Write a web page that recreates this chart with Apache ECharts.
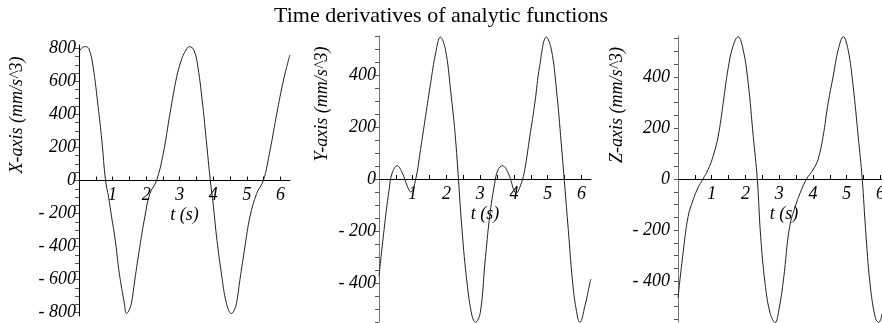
<!DOCTYPE html>
<html>
<head>
<meta charset="utf-8">
<script src="https://cdn.jsdelivr.net/npm/echarts@6/dist/echarts.min.js"></script>
<style>
  html, body { margin: 0; padding: 0; background: #fff; }
  #chart { width: 882px; height: 323px; }
</style>
</head>
<body>
<div id="chart"></div>
<script>
// chart text
var titleText = 'Time derivatives of analytic functions'
var axisNames = ['X-axis (mm/s^3)', 'Y-axis (mm/s^3)', 'Z-axis (mm/s^3)']
var timeName = 't (s)'

// tick labels
var timeTicks = [1, 2, 3, 4, 5, 6]
var xTicks = [-800, -600, -400, -200, 0, 200, 400, 600, 800]
var yTicks = [-400, -200, 0, 200, 400]
var zTicks = [-400, -200, 0, 200, 400]

// X-axis jerk
var tX = [0, 0.1, 0.2, 0.3, 0.42, 0.57, 0.68, 0.79, 0.88, 0.97, 1.08, 1.2, 1.35, 1.41, 1.48, 1.56, 1.66, 1.81, 1.96, 2.11, 2.31, 2.51, 2.71, 2.91, 3.05, 3.16, 3.29, 3.42, 3.54, 3.69, 3.79, 3.91, 4.0, 4.09, 4.24, 4.39, 4.54, 4.61, 4.69, 4.79, 4.94, 5.09, 5.29, 5.49, 5.69, 5.89, 6.09, 6.28]
var vX = [780, 805, 810, 795, 688, 446, 244, 0, -100, -220, -362, -562, -743, -805, -790, -743, -604, -402, -220, -79, 0, 164, 406, 628, 730, 780, 810, 790, 688, 446, 244, 0, -150, -330, -562, -743, -805, -790, -743, -604, -402, -220, -79, 0, 184, 406, 608, 760]

// Y-axis jerk
var tY = [0, 0.15, 0.3, 0.39, 0.54, 0.69, 0.84, 0.94, 1.09, 1.23, 1.38, 1.53, 1.68, 1.82, 1.97, 2.12, 2.27, 2.46, 2.61, 2.76, 2.86, 3.0, 3.14, 3.28, 3.43, 3.53, 3.66, 3.83, 4.07, 4.22, 4.32, 4.47, 4.62, 4.76, 4.96, 5.11, 5.26, 5.4, 5.61, 5.76, 5.9, 5.95, 6.1, 6.25, 6.28]
var vY = [-375, -195, -41, 23, 51, 23, -28, -50, 0, 113, 241, 369, 485, 546, 497, 343, 151, -195, -400, -528, -551, -515, -323, -144, -15, 36, 51, 23, -54, -15, 36, 164, 293, 433, 546, 497, 343, 139, -195, -425, -540, -551, -490, -400, -385]

// Z-axis jerk
var tZ = [0, 0.15, 0.3, 0.45, 0.59, 0.74, 0.89, 1.04, 1.19, 1.34, 1.48, 1.63, 1.78, 1.93, 2.08, 2.23, 2.35, 2.45, 2.58, 2.73, 2.88, 3.0, 3.13, 3.31, 3.51, 3.66, 3.81, 4.0, 4.15, 4.3, 4.45, 4.6, 4.75, 4.9, 5.04, 5.19, 5.34, 5.46, 5.56, 5.69, 5.84, 5.94, 6.09, 6.19, 6.28]
var vZ = [-465, -290, -147, -81, -35, 0, 36, 89, 167, 298, 429, 520, 557, 507, 376, 167, 0, -225, -408, -525, -562, -505, -390, -186, -94, -42, 0, 36, 76, 167, 298, 403, 507, 557, 507, 364, 167, 0, -199, -408, -539, -562, -505, -420, -440]

var serif = 'Liberation Serif'

function pairs(t, v) {
  return t.map(function (x, i) { return [x, v[i]] })
}

function steps(lo, hi, d) {
  var out = []
  for (var v = lo; v <= hi; v += d) out.push(v)
  return out
}

function minusLabel(v) {
  return v < 0 ? '- ' + (-v) : String(v)
}

// the time axis sits on y = 0, i.e. half the grid height above the bottom
var panels = [
  { grid: { left: 79, right: 592, top: 45, bottom: 7 }, range: 820, ticks: xTicks, minor: steps(-800, 800, 50), margin: 3, axisColor: '#000', t: tX, v: vX },
  { grid: { left: 379, right: 291, top: 36, bottom: 1 }, range: 550, ticks: yTicks, minor: steps(-550, 550, 50), margin: 3, axisColor: '#777', t: tY, v: vY },
  { grid: { left: 678, right: -8, top: 36, bottom: 1 }, range: 560, ticks: zTicks, minor: steps(-550, 550, 50), margin: 8, axisColor: '#777', t: tZ, v: vZ }
]

var namePos = [[17, 115], [322, 104], [617, 105]]

var myChart = echarts.init(document.getElementById('chart'))

var option = {
  animation: false,
  backgroundColor: '#fff',
  title: {
    text: titleText,
    left: 'center',
    top: 0,
    textStyle: { fontFamily: serif, fontWeight: 'normal', fontSize: 22, color: '#000' }
  },
  grid: panels.map(function (p) {
    return Object.assign({ containLabel: false, outerBoundsMode: 'none' }, p.grid)
  }),
  xAxis: panels.map(function (p, i) {
    var h = 323 - p.grid.top - p.grid.bottom
    return {
      type: 'value',
      gridIndex: i,
      min: 0,
      max: 2 * Math.PI,
      interval: 1,
      offset: -h / 2,
      name: timeName,
      nameLocation: 'middle',
      nameGap: 26,
      nameMoveOverlap: false,
      nameTextStyle: { fontFamily: serif, fontStyle: 'italic', fontSize: 18, color: '#000' },
      splitLine: { show: false },
      axisLine: { onZero: false, lineStyle: { color: '#000', width: 1 } },
      axisTick: { inside: true, length: 4, customValues: steps(0.5, 6, 0.5), lineStyle: { color: '#000' } },
      axisLabel: {
        customValues: timeTicks,
        margin: 6,
        fontFamily: serif,
        fontStyle: 'italic',
        fontSize: 18,
        color: '#000'
      }
    }
  }),
  yAxis: panels.map(function (p, i) {
    return {
      type: 'value',
      gridIndex: i,
      min: -p.range,
      max: p.range,
      splitLine: { show: false },
      axisLine: { show: true, onZero: false, lineStyle: { color: p.axisColor, width: 1 } },
      axisTick: { show: true, length: 4, customValues: p.minor, lineStyle: { color: '#555' } },
      axisLabel: {
        customValues: p.ticks,
        margin: p.margin,
        formatter: minusLabel,
        fontFamily: serif,
        fontStyle: 'italic',
        fontSize: 18,
        color: '#000'
      }
    }
  }),
  series: panels.map(function (p, i) {
    return {
      type: 'line',
      xAxisIndex: i,
      yAxisIndex: i,
      data: pairs(p.t, p.v),
      smooth: 0.4,
      symbol: 'none',
      clip: false,
      lineStyle: { color: '#222', width: 1 }
    }
  }),
  graphic: axisNames.map(function (name, i) {
    return {
      type: 'text',
      x: namePos[i][0],
      y: namePos[i][1],
      rotation: Math.PI / 2,
      style: {
        text: name,
        fontFamily: serif,
        fontStyle: 'italic',
        fontSize: 18,
        fill: '#000',
        align: 'center',
        verticalAlign: 'middle'
      }
    }
  })
}

myChart.setOption(option)
</script>
</body>
</html>
